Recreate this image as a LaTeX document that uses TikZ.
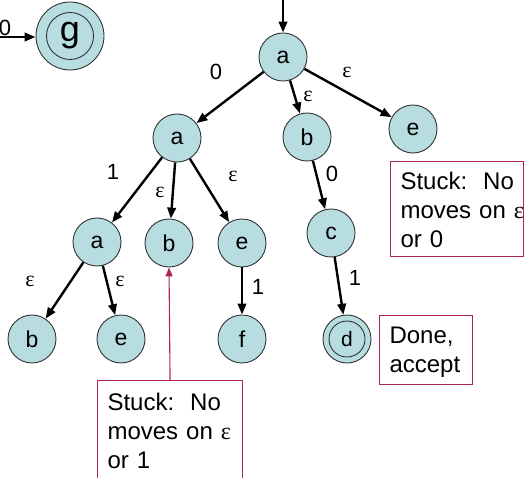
\documentclass[tikz,border=0pt]{standalone}
\usepackage{fontspec}
\setmainfont{Liberation Sans}
\newfontfamily\greekserif{Liberation Serif}
\usetikzlibrary{arrows.meta}
\newcommand\eps{{\greekserif ε}}
\definecolor{statefill}{RGB}{183,221,224}
\definecolor{noteline}{RGB}{172,38,88}
\begin{document}
\begin{tikzpicture}[x=1pt,y=-1pt,
  state/.style={circle, draw=black!80, line width=0.9pt, fill=statefill,
    minimum size=48pt, inner sep=0pt, font=\fontsize{23}{23}\selectfont},
  bigstate/.style={state, minimum size=68pt, font=\fontsize{36}{36}\selectfont},
  trans/.style={line width=2.4pt, -{Triangle[length=11pt,width=8.5pt]}},
  lbl/.style={inner sep=0pt, font=\fontsize{22}{22}\selectfont},
  note/.style={draw=noteline, line width=1.1pt, fill=white, anchor=north west,
    align=left, inner xsep=10pt, inner ysep=0pt,
    font=\fontsize{24}{29}\selectfont},
  pointer/.style={draw=noteline, line width=1.1pt,
    -{Triangle[length=9pt,width=7pt]}}]
\useasboundingbox (0,0) rectangle (524,478);

% states
\node[bigstate] (g)  at (70,36)   {g};
\draw[line width=0.9pt, black!80] (g) circle (23.5pt);
\node[state] (a0) at (283,57)  {a};
\node[state] (a1) at (177,138) {a};
\node[state] (b1) at (307,137) {b};
\node[state] (e1) at (413,129) {e};
\node[state] (a2) at (97,242)  {a};
\node[state] (b2) at (169,243) {b};
\node[state] (e2) at (242,243) {e};
\node[state] (c)  at (331,233) {c};
\node[state] (b3) at (32,339)  {b};
\node[state] (e3) at (121,339) {e};
\node[state] (f)  at (242,339) {f};
\node[state, font=\fontsize{21}{21}\selectfont] (d)  at (347,339) {d};
\draw[line width=0.9pt, black!80] (d) circle (18pt);

% incoming transitions from outside
\coordinate (gin) at (-30,37);
\coordinate (start) at (283,-5);
\draw[trans] (gin) -- (g.west |- gin);
\draw[trans] (start) -- (a0);

% transitions
\draw[trans] (a0) -- (a1);
\draw[trans] (a0) -- (b1);
\draw[trans] (a0) -- (e1);
\draw[trans] (a1) -- (a2);
\draw[trans] (a1) -- (b2);
\draw[trans] (a1) -- (e2);
\draw[trans] (b1) -- (c);
\draw[trans] (c)  -- (d);
\draw[trans] (e2) -- (f);
\draw[trans] (a2) -- (b3);
\draw[trans] (a2) -- (e3);

% transition labels
\node[lbl] (lg)   at (5,28)    {0};
\node[lbl] (l01)  at (216,72)  {0};
\node[lbl] (l0b)  at (308,96)  {\eps};
\node[lbl] (l0e)  at (347,72)  {\eps};
\node[lbl] (l12)  at (113,172) {1};
\node[lbl] (l1b)  at (160,192) {\eps};
\node[lbl] (l1e)  at (233,176) {\eps};
\node[lbl] (lbc)  at (332,174) {0};
\node[lbl] (lcd)  at (355,278) {1};
\node[lbl] (lef)  at (258,287) {1};
\node[lbl] (l2b)  at (30,281)  {\eps};
\node[lbl] (l2e)  at (120,281) {\eps};

% notes
\node[note, text width=113pt] (n1) at (390,161)
  {\rule{0pt}{28pt}Stuck:~~No\\moves~on~\eps\\or 0\rule[-9pt]{0pt}{9pt}};
\node[note, text width=73pt] (n2) at (379,315)
  {\rule{0pt}{28pt}Done,\\accept\rule[-11.5pt]{0pt}{11.5pt}};
\node[note, text width=125pt] (n3) at (97,380)
  {\rule{0pt}{30pt}Stuck:~~No\\moves~on~\eps\\or 1\rule[-20pt]{0pt}{20pt}};
\draw[pointer] (n3.north) -- (b2.south);
\end{tikzpicture}
\end{document}
